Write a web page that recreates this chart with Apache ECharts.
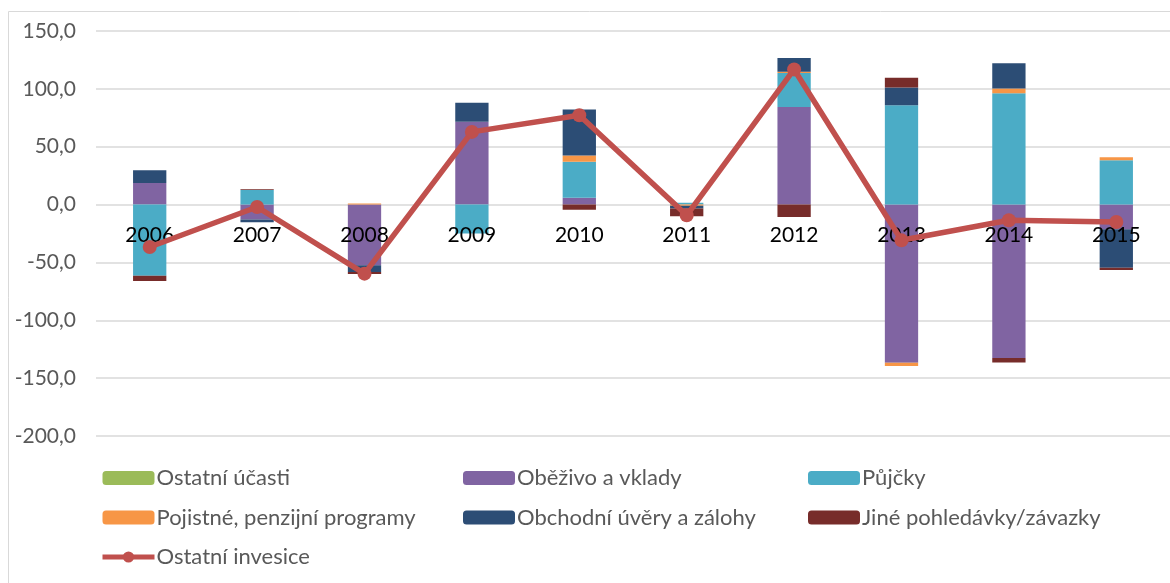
<!DOCTYPE html>
<html>
<head>
<meta charset="utf-8">
<script src="https://cdn.jsdelivr.net/npm/echarts@6/dist/echarts.min.js"></script>
<style>
  html, body { margin: 0; padding: 0; background: #fff; }
  #chart { width: 1170px; height: 583px; }
</style>
</head>
<body>
<div id="chart"></div>
<script>
// data
const years = ['2006', '2007', '2008', '2009', '2010', '2011', '2012', '2013', '2014', '2015']
const ostatniUcasti = [0, 0, 0, 0, 0, 0, 0, 0, 0, 0]
const obezivo = [18.7, -13, -52.5, 71.5, 6, 0, 84.4, -136.7, -132.7, -21.4]
const pujcky = [-61.5, 12.5, 0, -25, 31.1, 1.5, 29.4, 85.9, 96.3, 38.3]
const pojistne = [0, 0, 1, 0, 5.2, -1, 1, -2.9, 4, 2.6]
const obchodni = [11, -2.2, -5.8, 16.4, 39.8, -2.5, 11.8, 15.3, 21.9, -33.1]
const jine = [-4.6, 0.8, -1.7, 0, -4.5, -6.5, -10.7, 8.3, -3.7, -2]
const ostatniInvesice = [-36.7, -2.1, -59.7, 62.8, 77.2, -9.3, 116.8, -30.9, -13.6, -15.0]

const font = 'Lato, "Open Sans", sans-serif'
const chart = echarts.init(document.getElementById('chart'))

const bar = (name, data, color) => ({
  name: name,
  type: 'bar',
  stack: 'total',
  barWidth: '31%',
  itemStyle: { color: color },
  data: data
})

const legendBase = {
  orient: 'vertical',
  itemWidth: 52,
  itemHeight: 14,
  itemGap: 17.5,
  lineStyle: { width: 5 },
  textStyle: { color: '#595959', fontSize: 22, lineHeight: 20, fontFamily: font, padding: [0, 0, 0, -3] }
}

const option = {
  animation: false,
  graphic: [{
    type: 'rect',
    shape: { x: 8.5, y: 11.5, width: 1200, height: 600 },
    style: { fill: 'none', stroke: '#d9d9d9', lineWidth: 1 }
  }],
  grid: { left: 96, right: -4, top: 31, bottom: 147 },
  legend: [
    Object.assign({ left: 95, top: 462, data: ['Ostatní účasti', 'Pojistné, penzijní programy', 'Ostatní invesice'] }, legendBase),
    Object.assign({ left: 458, top: 462, data: ['Oběživo a vklady', 'Obchodní úvěry a zálohy'] }, legendBase),
    Object.assign({ left: 803, top: 462, data: ['Půjčky', 'Jiné pohledávky/závazky'] }, legendBase)
  ],
  xAxis: {
    type: 'category',
    data: years,
    z: 3,
    // labels sit along the zero line, as in the original
    offset: -232,
    axisLine: { show: false, onZero: false },
    axisTick: { show: false },
    axisLabel: { color: '#000', fontSize: 21, fontFamily: font, margin: 21 }
  },
  yAxis: {
    type: 'value',
    min: -200,
    max: 150,
    interval: 50,
    axisLabel: {
      color: '#595959',
      fontSize: 21,
      fontFamily: font,
      margin: 20,
      formatter: v => v.toFixed(1).replace('.', ',')
    },
    splitLine: { lineStyle: { color: '#d9d9d9', width: 1.5 } }
  },
  series: [
    bar('Ostatní účasti', ostatniUcasti, '#9BBB59'),
    bar('Oběživo a vklady', obezivo, '#8064A2'),
    bar('Půjčky', pujcky, '#4BACC6'),
    bar('Pojistné, penzijní programy', pojistne, '#F79646'),
    bar('Obchodní úvěry a zálohy', obchodni, '#2C4D75'),
    bar('Jiné pohledávky/závazky', jine, '#772C2A'),
    {
      name: 'Ostatní invesice',
      type: 'line',
      z: 5,
      symbol: 'circle',
      symbolSize: 14,
      itemStyle: { color: '#C0504D' },
      lineStyle: { color: '#C0504D', width: 5.5 },
      data: ostatniInvesice
    }
  ]
}

chart.setOption(option)
</script>
</body>
</html>
